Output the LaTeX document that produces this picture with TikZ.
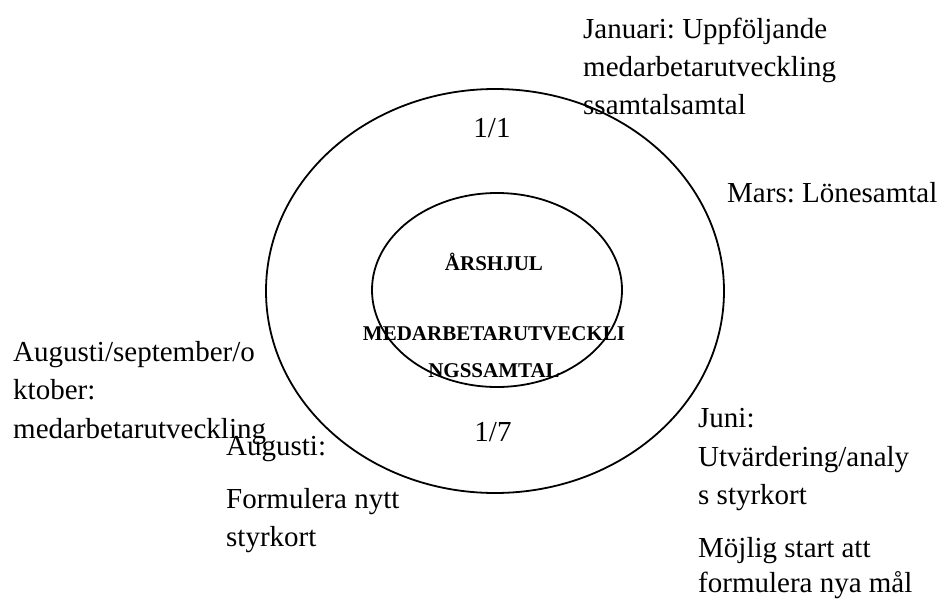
\documentclass[tikz,border=0pt]{standalone}
\usepackage{fontspec}
\setmainfont{Liberation Serif}
\frenchspacing
\begin{document}
\begin{tikzpicture}[x=1pt,y=-1pt,
  txt/.style={font=\fontsize{29}{38}\selectfont, inner sep=0pt, anchor=base west},
  mid/.style={font=\fontsize{29}{38}\selectfont, inner sep=0pt, anchor=base},
  bld/.style={font=\fontsize{21}{25}\selectfont\bfseries, inner sep=0pt, anchor=base},
  ring/.style={draw=black, line width=1.8pt}]
\useasboundingbox (0,0) rectangle (939,599);
\fill[white] (0,0) rectangle (939,599);
% circles
\draw[ring] (495,291) ellipse [x radius=229, y radius=202];
\draw[ring] (497,290) ellipse [x radius=125, y radius=97];
% centre texts
\node[bld] (ars) at (494,270) {ÅRSHJUL};
\node[bld] (med1) at (494,340) {MEDARBETARUTVECKLI};
\node[bld] (med2) at (494,377) {NGSSAMTAL};
\node[mid] (d11) at (492,137) {1/1};
\node[mid] (d17) at (493,441) {1/7};
% Januari
\node[txt] (jan1) at (583,39) {Januari: Uppföljande};
\node[txt] (jan2) at (583,77) {medarbetarutveckling};
\node[txt] (jan3) at (583,115) {ssamtalsamtal};
% Mars
\node[txt] (mars) at (727,202) {Mars: Lönesamtal};
% Augusti/september/oktober
\node[txt] (aso1) at (13,361) {Augusti/september/o};
\node[txt] (aso2) at (13,399) {ktober:};
\node[txt] (aso3) at (13,438) {medarbetarutveckling};
% Augusti
\node[txt] (aug1) at (226,455) {Augusti:};
\node[txt] (aug2) at (226,508) {Formulera nytt};
\node[txt] (aug3) at (226,546) {styrkort};
% Juni
\node[txt] (jun1) at (698,427) {Juni:};
\node[txt] (jun2) at (698,466) {Utvärdering/analy};
\node[txt] (jun3) at (698,504) {s styrkort};
\node[txt] (jun4) at (698,557) {Möjlig start att};
\node[txt] (jun5) at (698,592) {formulera nya mål};
\end{tikzpicture}
\end{document}
